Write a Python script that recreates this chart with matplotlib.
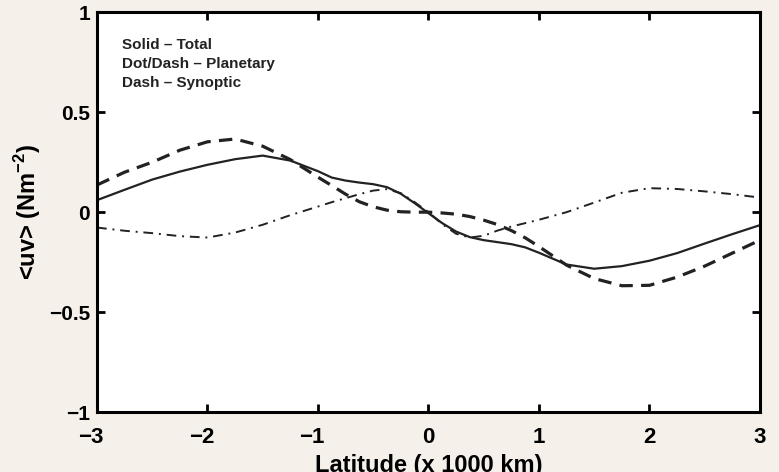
import matplotlib
matplotlib.use("Agg")
import matplotlib.pyplot as plt
import matplotlib.transforms as mtransforms

# ======================================================
# DATA
# ======================================================

latitude = [-3.0, -2.75, -2.5, -2.25, -2.0, -1.75, -1.5, -1.25,
            -1.0, -0.875, -0.75, -0.625, -0.5, -0.375, -0.25, -0.125,
            0.0, 0.125, 0.25, 0.375, 0.5, 0.625, 0.75, 0.875,
            1.0, 1.25, 1.5, 1.75, 2.0, 2.25, 2.5, 2.75, 3.0]

total = [0.06, 0.112, 0.163, 0.203, 0.237, 0.265, 0.283, 0.258,
         0.205, 0.173, 0.158, 0.148, 0.140, 0.125, 0.092, 0.045,
         -0.005, -0.055, -0.097, -0.125, -0.140, -0.150, -0.160, -0.176,
         -0.203, -0.262, -0.283, -0.270, -0.243, -0.205, -0.157, -0.110, -0.065]

synoptic = [0.136, 0.20, 0.25, 0.31, 0.352, 0.366, 0.33, 0.263,
            0.175, 0.133, 0.09, 0.052, 0.027, 0.01, 0.002, 0.0,
            0.0, -0.004, -0.01, -0.022, -0.04, -0.062, -0.092, -0.128,
            -0.172, -0.265, -0.332, -0.368, -0.366, -0.325, -0.27, -0.205, -0.14]

planetary = [-0.077, -0.093, -0.105, -0.12, -0.127, -0.102, -0.063, -0.015,
             0.028, 0.05, 0.07, 0.09, 0.108, 0.115, 0.095, 0.05,
             0.0, -0.06, -0.108, -0.127, -0.118, -0.092, -0.072, -0.055,
             -0.038, 0.0, 0.048, 0.097, 0.12, 0.116, 0.104, 0.09, 0.073]

xticks = [-3, -2, -1, 0, 1, 2, 3]
xtick_labels = ["\u22123", "\u22122", "\u22121", "0", "1", "2", "3"]
yticks = [-1, -0.5, 0, 0.5, 1]
ytick_labels = ["\u22121", "\u22120.5", "0", "0.5", "1"]

notes = ["Solid \u2013 Total", "Dot/Dash \u2013 Planetary", "Dash \u2013 Synoptic"]

# ======================================================
# PLOT
# ======================================================

plt.rcParams["font.family"] = ["Liberation Sans", "DejaVu Sans"]
plt.rcParams["font.weight"] = "bold"
plt.rcParams["mathtext.fontset"] = "custom"
plt.rcParams["mathtext.bf"] = "Liberation Sans:bold"
plt.rcParams["mathtext.rm"] = "Liberation Sans:bold"

BG = "#f5f1ea"
INK = "#222222"

fig = plt.figure(figsize=(7.79, 4.72), dpi=100, facecolor=BG)
ax = fig.add_axes([0.1245, 0.127, 0.851, 0.847])
ax.set_facecolor("white")

ax.plot(latitude, total, color=INK, lw=1.6)
ax.plot(latitude, planetary, color=INK, lw=1.4, dashes=(5, 3, 1, 3))
ax.plot(latitude, synoptic, color=INK, lw=2.3, dashes=(4.2, 2.6))

ax.set_xlim(-3, 3)
ax.set_ylim(-1, 1)
ax.set_xticks(xticks)
ax.set_xticklabels(xtick_labels)
ax.set_yticks(yticks)
ax.set_yticklabels(ytick_labels)

ax.tick_params(direction="in", length=6, width=2, top=True, right=True, colors="black")
ax.tick_params(axis="x", labelsize=16, pad=11)
ax.tick_params(axis="y", labelsize=15, pad=5)
for lab in ax.get_xticklabels() + ax.get_yticklabels():
    lab.set_fontweight("bold")

# MATLAB centres the digits on the tick, so the minus sign hangs to the left
shift = mtransforms.ScaledTranslation(-6 / 100, 0, fig.dpi_scale_trans)
for lab in ax.get_xticklabels():
    if lab.get_text().startswith("\u2212"):
        lab.set_transform(lab.get_transform() + shift)

for sp in ax.spines.values():
    sp.set_linewidth(2.2)
    sp.set_color("black")

ax.set_ylabel("<uv> (Nm$^{\\mathrm{-2}}$)", fontsize=17, fontweight="bold", labelpad=4)
ax.set_xlabel("Latitude (x 1000 km)", fontsize=17, fontweight="bold", labelpad=4)

for i, t in enumerate(notes):
    ax.text(0.038, 0.917 - i * 0.047, t, transform=ax.transAxes, fontsize=11,
            fontweight="bold", color=INK, va="center", ha="left")

fig.savefig("out.png", dpi=100, facecolor=BG)
